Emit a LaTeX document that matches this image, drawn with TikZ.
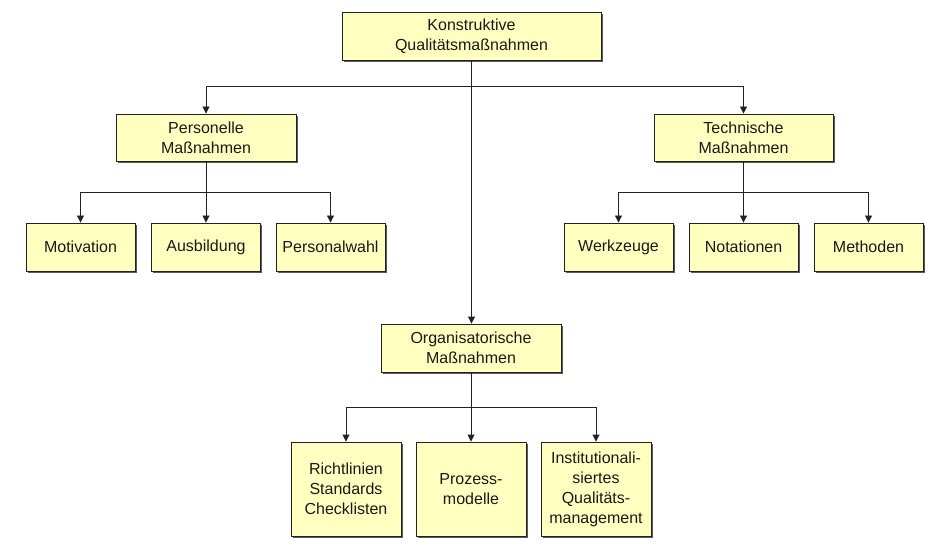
\documentclass[tikz,border=0pt]{standalone}
\usepackage{fontspec}
\setmainfont{Liberation Sans}
\usetikzlibrary{arrows.meta,shadows}
\definecolor{boxfill}{HTML}{FFFFC0}
\definecolor{linec}{HTML}{222222}
\tikzset{
  box/.style={draw=linec, line width=0.9pt, fill=boxfill, align=center, inner sep=1pt,
    font=\fontsize{16pt}{20pt}\selectfont, text=black!90,
    drop shadow={shadow xshift=1.6pt, shadow yshift=-1.6pt, fill=black!65, opacity=1}},
  conn/.style={draw=linec, line width=0.9pt},
  arr/.style={conn, -{Triangle[length=7pt,width=7pt]}}
}
\begin{document}
\begin{tikzpicture}[x=1pt,y=-1pt]
\useasboundingbox (0,0) rectangle (948,556);
\node[box, minimum width=259pt, minimum height=48pt] (top) at (471.5,36) {Konstruktive\\Qualitätsmaßnahmen};
\node[box, minimum width=180pt, minimum height=47pt] (pers) at (206,137.5) {Personelle\\Maßnahmen};
\node[box, minimum width=179pt, minimum height=47pt] (tech) at (743.5,137.5) {Technische\\Maßnahmen};
\node[box, minimum width=180pt, minimum height=48pt] (org) at (471,348) {Organisatorische\\Maßnahmen};
\foreach \n/\x/\t in {mot/80.5/Motivation, aus/206/Ausbildung, pw/330.5/Personalwahl,
                      wz/618.5/Werkzeuge, nt/743.5/Notationen, me/868.5/Methoden}{
  \node[box, minimum width=109pt, minimum height=48pt] (\n) at (\x,247) {\t};
}
\node[box, minimum width=110pt, minimum height=94pt] (ri) at (346,489) {Richtlinien\\Standards\\Checklisten};
\node[box, minimum width=110pt, minimum height=94pt] (pm) at (471,489) {Prozess-\\modelle};
\node[box, minimum width=110pt, minimum height=94pt] (iq) at (596,489) {Institutionali-\\siertes\\Qualitäts-\\management};
% connectors
\coordinate (j1) at (top.south |- 0,86);
\draw[arr] (top.south) -- (top.south |- org.north);
\draw[arr] (j1) -| (pers.north);
\draw[arr] (j1) -| (tech.north);
\coordinate (j2) at (pers.south |- 0,192);
\draw[arr] (pers.south) -- (aus.north);
\draw[arr] (j2) -| (mot.north);
\draw[arr] (j2) -| (pw.north);
\coordinate (j3) at (tech.south |- 0,192);
\draw[arr] (tech.south) -- (nt.north);
\draw[arr] (j3) -| (wz.north);
\draw[arr] (j3) -| (me.north);
\coordinate (j4) at (org.south |- 0,407);
\draw[arr] (org.south) -- (pm.north);
\draw[arr] (j4) -| (ri.north);
\draw[arr] (j4) -| (iq.north);
\end{tikzpicture}
\end{document}
